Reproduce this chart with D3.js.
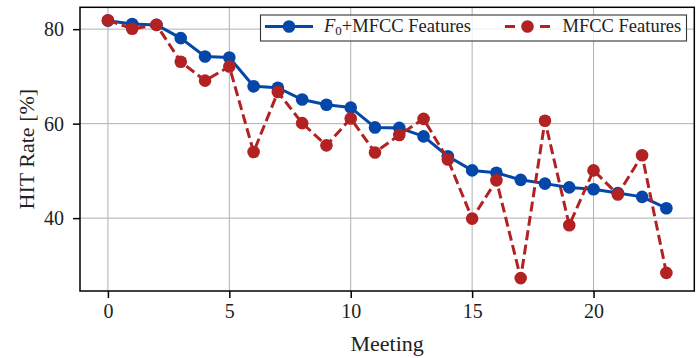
<!DOCTYPE html>
<html>
<head>
<meta charset="utf-8">
<script src="https://cdn.jsdelivr.net/npm/d3@7"></script>
<style>
  html, body { margin: 0; padding: 0; background: #fff; }
  svg { display: block; font-family: "Liberation Serif", "Times New Roman", serif; }
</style>
</head>
<body>
<svg id="chart" width="699" height="358"></svg>
<script>
// HIT rate per meeting for the two feature sets
const meetings = d3.range(0, 24);
const f0MfccRate = [81.8, 81.1, 80.9, 78.1, 74.2, 74.0, 67.9, 67.6, 65.1, 64.0, 63.4, 59.2,
                    59.1, 57.3, 53.1, 50.1, 49.6, 48.1, 47.3, 46.5, 46.1, 45.3, 44.5, 42.1];
const mfccRate   = [81.9, 80.1, 80.9, 73.1, 69.1, 72.1, 54.0, 66.7, 60.1, 55.4, 61.1, 53.9,
                    57.6, 61.0, 52.4, 39.9, 48.0, 27.3, 60.6, 38.5, 50.1, 45.0, 53.3, 28.4];
const xTicks = [0, 5, 10, 15, 20];
const yTicks = [40, 60, 80];
const seriesNames = ["F0+MFCC Features", "MFCC Features"];

const svg = d3.select("#chart");
const plot = { left: 80, right: 694.3, top: 7.3, bottom: 291 };

// 5% padding around the data range on both axes
const pad = (lo, hi) => { const m = (hi - lo) * 0.05; return [lo - m, hi + m]; };
const allY = f0MfccRate.concat(mfccRate);
const x = d3.scaleLinear().domain(pad(d3.min(meetings), d3.max(meetings))).range([plot.left, plot.right]);
const y = d3.scaleLinear().domain(pad(d3.min(allY), d3.max(allY))).range([plot.bottom, plot.top]);

const blue = "#0447a8";
const red = "#b22222";

// grid
const grid = svg.append("g");
grid.selectAll("line.gx").data(xTicks).join("line")
  .attr("x1", d => x(d)).attr("x2", d => x(d))
  .attr("y1", plot.top).attr("y2", plot.bottom)
  .attr("stroke", "#b0b0b0").attr("stroke-width", 1);
grid.selectAll("line.gy").data(yTicks).join("line")
  .attr("x1", plot.left).attr("x2", plot.right)
  .attr("y1", d => y(d)).attr("y2", d => y(d))
  .attr("stroke", "#b0b0b0").attr("stroke-width", 1);

// axes
const xAxis = svg.append("g")
  .attr("transform", `translate(0,${plot.bottom})`)
  .call(d3.axisBottom(x).tickValues(xTicks).tickSize(7).tickPadding(6).tickFormat(d3.format("d")));
const yAxis = svg.append("g")
  .attr("transform", `translate(${plot.left},0)`)
  .call(d3.axisLeft(y).tickValues(yTicks).tickSize(7).tickPadding(9).tickFormat(d3.format("d")));
[xAxis, yAxis].forEach(a => {
  a.select(".domain").remove();
  a.selectAll(".tick line").attr("stroke", "#000").attr("stroke-width", 1.5);
  a.selectAll(".tick text").attr("fill", "#222").style("font-size", "20px")
    .style("font-family", "'Liberation Serif', serif");
});
xAxis.selectAll(".tick text").attr("dy", "0.72em");
yAxis.selectAll(".tick text").attr("dy", "0.34em");

// series
const line = d3.line().x((d, i) => x(meetings[i])).y(d => y(d));

svg.append("path").datum(f0MfccRate)
  .attr("d", line).attr("fill", "none")
  .attr("stroke", blue).attr("stroke-width", 3).attr("stroke-linejoin", "round");
svg.append("g").selectAll("circle").data(f0MfccRate).join("circle")
  .attr("cx", (d, i) => x(meetings[i])).attr("cy", d => y(d)).attr("r", 6.3).attr("fill", blue);

svg.append("path").datum(mfccRate)
  .attr("d", line).attr("fill", "none")
  .attr("stroke", red).attr("stroke-width", 3).attr("stroke-dasharray", "10,4.5");
svg.append("g").selectAll("circle").data(mfccRate).join("circle")
  .attr("cx", (d, i) => x(meetings[i])).attr("cy", d => y(d)).attr("r", 6.3).attr("fill", red);

// frame
svg.append("rect")
  .attr("x", plot.left).attr("y", plot.top)
  .attr("width", plot.right - plot.left).attr("height", plot.bottom - plot.top)
  .attr("fill", "none").attr("stroke", "#000").attr("stroke-width", 1.5);

// legend
const leg = svg.append("g");
leg.append("rect")
  .attr("x", 260.5).attr("y", 15).attr("width", 426).attr("height", 26)
  .attr("fill", "#fff").attr("fill-opacity", 0.8)
  .attr("stroke", "#333").attr("stroke-width", 1.1);

const legY = 26.5;
leg.append("line").attr("x1", 265).attr("x2", 313).attr("y1", legY).attr("y2", legY)
  .attr("stroke", blue).attr("stroke-width", 3);
leg.append("circle").attr("cx", 289).attr("cy", legY).attr("r", 6.3).attr("fill", blue);
const t1 = leg.append("text").attr("x", 324).attr("y", 31.5)
  .attr("fill", "#222").style("font-size", "18.5px");
t1.append("tspan").style("font-style", "italic").text(seriesNames[0].charAt(0));
t1.append("tspan").attr("dy", 3.5).style("font-size", "13px").text(seriesNames[0].charAt(1));
t1.append("tspan").attr("dy", -3.5).text(seriesNames[0].slice(2));

leg.append("line").attr("x1", 505).attr("x2", 550).attr("y1", legY).attr("y2", legY)
  .attr("stroke", red).attr("stroke-width", 3).attr("stroke-dasharray", "10,25");
leg.append("circle").attr("cx", 527.5).attr("cy", legY).attr("r", 6.3).attr("fill", red);
leg.append("text").attr("x", 562.5).attr("y", 31.5)
  .attr("fill", "#222").style("font-size", "18.5px").text(seriesNames[1]);

// axis titles
svg.append("text")
  .attr("x", (plot.left + plot.right) / 2).attr("y", 351)
  .attr("text-anchor", "middle").attr("fill", "#222").style("font-size", "22px")
  .text("Meeting");
svg.append("text")
  .attr("transform", `translate(33.5,${(plot.top + plot.bottom) / 2}) rotate(-90)`)
  .attr("text-anchor", "middle").attr("fill", "#222").style("font-size", "22px")
  .text("HIT Rate [%]");
</script>
</body>
</html>
